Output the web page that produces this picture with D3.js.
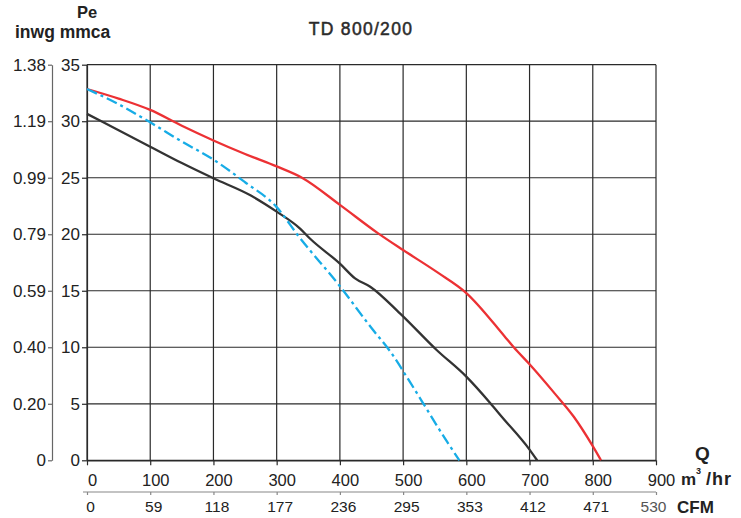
<!DOCTYPE html>
<html>
<head>
<meta charset="utf-8">
<script src="https://cdn.jsdelivr.net/npm/d3@7"></script>
<style>
  html, body { margin: 0; padding: 0; background: #fff; }
  svg { display: block; font-family: "Liberation Sans", Arial, sans-serif; }
</style>
</head>
<body>
<svg id="chart" width="741" height="518"></svg>
<script>
// ---- data ----
const title = "TD 800/200";
const qTicks = [0, 100, 200, 300, 400, 500, 600, 700, 800, 900];
const cfmLabels = ["0", "59", "118", "177", "236", "295", "353", "412", "471", "530"];
const mmcaTicks = [0, 5, 10, 15, 20, 25, 30, 35];
const inwgLabels = ["0", "0.20", "0.40", "0.59", "0.79", "0.99", "1.19", "1.38"];

const redQ = [0, 50, 100, 150, 200, 250, 300, 340, 400, 460, 500, 555, 600, 660, 675, 700, 740, 770, 800, 813];
const redP = [32.85, 32.0, 31.0, 29.6, 28.3, 27.1, 26.0, 25.0, 22.6, 20.1, 18.6, 16.6, 14.8, 11.0, 10.0, 8.5, 5.9, 3.85, 1.25, 0];

const blackQ = [0, 50, 100, 150, 200, 260, 300, 337, 353, 400, 424, 448, 495, 553, 600, 638, 656, 700, 712];
const blackP = [30.65, 29.2, 27.75, 26.3, 24.95, 23.4, 22.0, 20.5, 19.6, 17.4, 16.1, 15.36, 13.0, 9.76, 7.4, 5.05, 3.86, 0.95, 0];

const blueQ = [0, 50, 100, 150, 200, 250, 300, 335, 400, 450, 480, 510, 530, 570, 589];
const blueP = [32.85, 31.5, 29.9, 28.2, 26.6, 24.6, 22.4, 19.8, 15.4, 11.7, 9.6, 7.0, 5.2, 1.6, 0];

// ---- layout ----
const svg = d3.select("#chart");
const x = d3.scaleLinear().domain([0, 900]).range([87, 656]);
const y = d3.scaleLinear().domain([0, 35]).range([460.3, 64.7]);
const gridColor = "#2a2a2a";
const textColor = "#222";

// grid
const grid = svg.append("g");
grid.selectAll("line.v").data(qTicks).enter().append("line")
  .attr("x1", d => x(d)).attr("x2", d => x(d))
  .attr("y1", y(35)).attr("y2", y(0))
  .attr("stroke", gridColor).attr("stroke-width", 1.2);
grid.selectAll("line.h").data(mmcaTicks).enter().append("line")
  .attr("x1", x(0)).attr("x2", x(900))
  .attr("y1", d => y(d)).attr("y2", d => y(d))
  .attr("stroke", gridColor).attr("stroke-width", 1.2);

function styleAxis(g, color) {
  g.selectAll("path.domain").attr("stroke", color).attr("stroke-width", 1.2);
  g.selectAll(".tick line").attr("stroke", color).attr("stroke-width", 1.2);
  g.selectAll(".tick text").attr("fill", textColor)
    .attr("font-family", "Liberation Sans, Arial, sans-serif");
}

// bottom Q axis
const xAxisG = svg.append("g").attr("transform", `translate(0,${y(0)})`)
  .call(d3.axisBottom(x).tickValues(qTicks).tickSizeInner(5).tickSizeOuter(0).tickPadding(9));
styleAxis(xAxisG, gridColor);
xAxisG.selectAll(".tick text").attr("font-size", 16.5).attr("dx", 5);

// CFM axis
const cfmAxisG = svg.append("g").attr("transform", "translate(0,492)")
  .call(d3.axisBottom(x).tickValues(qTicks).tickSizeInner(3).tickSizeOuter(0).tickPadding(6)
    .tickFormat((d, i) => cfmLabels[i]));
styleAxis(cfmAxisG, "#888");
cfmAxisG.select("path.domain").attr("d", `M${x(0) - 4},0H${x(900)}`);
cfmAxisG.selectAll(".tick text").attr("font-size", 15.5).attr("dx", 3);
cfmAxisG.selectAll(".tick text").filter((d, i) => i === cfmLabels.length - 1)
  .attr("fill", "#555").attr("dx", -3);

// left mmca axis
const mmcaAxisG = svg.append("g").attr("transform", `translate(${x(0)},0)`)
  .call(d3.axisLeft(y).tickValues(mmcaTicks).tickSizeInner(5).tickSizeOuter(0).tickPadding(2));
styleAxis(mmcaAxisG, gridColor);
mmcaAxisG.selectAll(".tick text").attr("font-size", 17);

// left inwg axis
const inwgAxisG = svg.append("g").attr("transform", "translate(52,0)")
  .call(d3.axisLeft(y).tickValues(mmcaTicks).tickSizeInner(4).tickSizeOuter(0).tickPadding(2)
    .tickFormat((d, i) => inwgLabels[i]));
styleAxis(inwgAxisG, "#666");
inwgAxisG.selectAll(".tick text").attr("font-size", 17);

// curves
const line = d3.line().x(d => x(d[0])).y(d => y(d[1])).curve(d3.curveMonotoneX);
const series = [
  { q: blackQ, p: blackP, color: "#333333", dash: null },
  { q: redQ, p: redP, color: "#ec3134", dash: null },
  { q: blueQ, p: blueP, color: "#17ace6", dash: "11,4,3,4" }
];
series.forEach(s => {
  svg.append("path")
    .datum(s.q.map((q, i) => [q, s.p[i]]))
    .attr("d", line)
    .attr("fill", "none")
    .attr("stroke", s.color)
    .attr("stroke-width", 2.3)
    .attr("stroke-dasharray", s.dash)
    .attr("stroke-linejoin", "round");
});

// title and labels
svg.append("text").attr("x", 361).attr("y", 35).attr("text-anchor", "middle")
  .attr("font-size", 17.5).attr("letter-spacing", 1.3).attr("fill", "#2a2a2a")
  .attr("stroke", "#2a2a2a").attr("stroke-width", 0.5).text(title);

const bold = (xx, yy, txt, size, anchor) => svg.append("text")
  .attr("x", xx).attr("y", yy).attr("text-anchor", anchor || "middle")
  .attr("font-size", size).attr("font-weight", "bold").attr("fill", textColor).text(txt);

bold(87, 18, "Pe", 16.5);
bold(15, 38, "inwg mmca", 17.5, "start");
bold(702.5, 460, "Q", 19);
bold(681, 485, "m", 17, "start");
bold(696, 474, "3", 9, "start");
bold(732, 485, "/hr", 18, "end").attr("letter-spacing", 1);
bold(677, 513, "CFM", 17, "start");
</script>
</body>
</html>
